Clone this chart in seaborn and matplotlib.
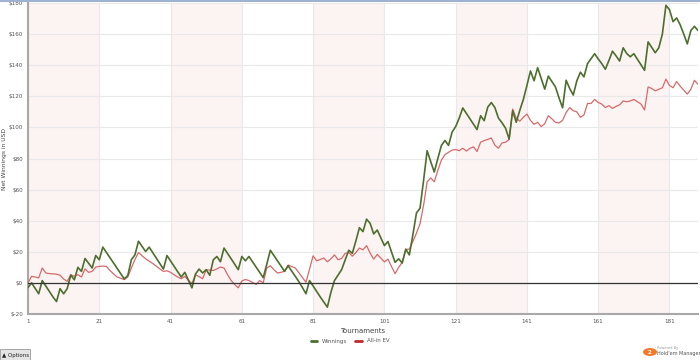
import matplotlib
matplotlib.use("Agg")
import matplotlib.pyplot as plt
import matplotlib.patches as mpatches
import seaborn as sns
import pandas as pd

winnings = [
    -3, 0, -3.5, -7, 1.5, -2, -5.5, -9, -12, -3.7,
    -7, -3.7, 5, 2, 10, 7.4, 15.7, 12.6, 9.6, 17.6,
    14.9, 23, 19.6, 16.2, 12.8, 9.4, 6, 2.6, 4.7, 14.9,
    18, 26.8, 23.5, 20.2, 23, 19.5, 16, 12.4, 8.9, 17.6,
    14.1, 10.6, 7.2, 3.8, 6.8, 1.8, -3.2, 5.7, 8.9, 6.4,
    8.5, 4.9, 14.9, 17, 13.6, 22.4, 19, 15.5, 12, 8.5,
    17, 14.2, 17, 13.6, 10.2, 6.8, 3.4, 12, 21, 17.6,
    14.2, 10.8, 7.4, 11, 7.6, 4.2, 0.8, -3, -7, 1.5,
    -2, -5.5, -9, -12.3, -15.6, -6, 1.5, 5, 8.5, 14.8,
    21, 19, 27, 35.5, 33, 41, 38.3, 31.5, 34, 29,
    24, 26.6, 19.9, 13.2, 15.5, 12.8, 21.7, 18, 31, 45,
    48, 66, 85, 78, 71.3, 80, 88.4, 91.6, 88.4, 97,
    100.5, 106, 112.5, 109, 105.5, 102, 98.6, 107.5, 104.3, 113,
    116, 112.8, 106, 103, 99.5, 92.5, 110.7, 103.3, 111, 118,
    127, 136.3, 130, 138.4, 131.5, 124.6, 133, 129.5, 126, 119,
    112.6, 130.3, 125, 120.8, 130, 135.5, 132.5, 141, 144.2, 147.4,
    144, 141, 137.4, 143, 149, 146, 142.7, 151.2, 147.5, 145.4,
    147.4, 143.8, 140.2, 136.7, 155, 151.5, 148, 151.2, 160, 178.5,
    175.7, 168, 170.4, 166, 160, 153.7, 162.3, 165, 162.3,
]

allin_ev = [
    0, 4.2, 3.8, 3.2, 9.6, 6.4, 6, 5.8, 5.6, 4.9,
    2.5, 1, 5.3, 4.2, 5.3, 3.8, 9, 6.8, 7.4, 10.2,
    10.6, 10.8, 10.6, 8, 5.8, 3.8, 3, 2.1, 3.8, 9.6,
    15, 19.6, 17.5, 15.5, 14, 12.5, 10.8, 9, 7.4, 7.8,
    6.8, 5.2, 3.8, 2.7, 4.2, 1.7, -0.4, 5.3, 4, 2.7,
    8.5, 8.2, 8, 9, 10.2, 9.6, 5.3, 1.5, -1, -3.2,
    1.2, 2.2, 1.5, 0.3, -1, 1.5, 0, 9.6, 11, 8.5,
    6.4, 6.8, 7.5, 11.5, 10.5, 9.6, 6.5, 3.5, 0.4, 9,
    17.4, 14.2, 15, 16, 13.6, 15.5, 18, 14.9, 15.7, 19,
    19.6, 17.2, 19.5, 22.4, 21.3, 24, 19.2, 15.3, 18.3, 16,
    13.5, 15.3, 10.5, 5.9, 10, 13.2, 21.5, 21.7, 26.6, 32,
    38, 50, 65, 67.5, 65, 72.4, 79, 82.5, 84, 85.4,
    85.8, 85, 86.6, 84.8, 86.5, 87.5, 84.5, 90.5, 91.5, 92.3,
    93.2, 88.6, 86.6, 90, 90.5, 92.2, 111.8, 106, 104, 106.5,
    108.6, 104.5, 102, 103.3, 100.5, 102.4, 107.5, 105.5, 103.3, 102.8,
    104.5, 109.6, 112.8, 110.7, 110, 106.5, 108, 115.4, 115.4, 118,
    116, 115, 112.8, 114, 112.2, 113.5, 114.5, 117, 116.5, 117,
    118, 116.5, 115, 111.2, 126, 125, 123.5, 124.5, 125.5, 131,
    127, 125.5, 129.5, 126.5, 124, 121.4, 124.6, 130.3, 127.7,
]

x_ticks = [1, 21, 41, 61, 81, 101, 121, 141, 161, 181]
y_ticks = [-20, 0, 20, 40, 60, 80, 100, 120, 140, 160, 180]
series_names = ["Winnings", "All-in EV"]

tournaments = list(range(1, len(winnings) + 1))
df = pd.DataFrame({
    "Tournament": tournaments * 2,
    "Value": winnings + allin_ev,
    "Series": [series_names[0]] * len(winnings) + [series_names[1]] * len(allin_ev),
})

sns.set_theme(style="white")
plt.rcParams["font.family"] = ["DejaVu Sans"]

fig = plt.figure(figsize=(7, 3.6), dpi=100)
ax = fig.add_axes([28 / 700, 1 - 314 / 360, 670 / 700, 311 / 360])

# alternating shaded bands
for i, start in enumerate(x_ticks):
    if i % 2 == 0:
        ax.axvspan(start, start + 20, color="#fcf3f3", zorder=0, lw=0)

green = "#4d6e2e"
red = "#d66a6a"
sns.lineplot(data=df[df.Series == "All-in EV"], x="Tournament", y="Value",
             color=red, lw=0.9, ax=ax, legend=False, zorder=3)
sns.lineplot(data=df[df.Series == "Winnings"], x="Tournament", y="Value",
             color=green, lw=1.2, ax=ax, legend=False, zorder=4)

ax.axhline(0, color="#333333", lw=0.9, zorder=5)

ax.set_xlim(1, len(winnings))
ax.set_ylim(-20, 180)
ax.set_xticks(x_ticks)
ax.set_xticklabels([str(t) for t in x_ticks])
ax.set_yticks(y_ticks)
ax.set_yticklabels([f"${v}" for v in y_ticks])
ax.grid(True, color="#e9e9e9", lw=0.8, zorder=1)
ax.set_axisbelow(True)
ax.tick_params(axis="both", labelsize=4.1, colors="#555555", length=2, width=0.5, pad=1.5)
for s in ["top", "right"]:
    ax.spines[s].set_visible(False)
for s in ["left", "bottom"]:
    ax.spines[s].set_color("#a8a8a8")
    ax.spines[s].set_linewidth(1.5)

ax.set_xlabel("Tournaments", fontsize=5, color="#444444", labelpad=3)
ax.set_ylabel("Net Winnings in USD", fontsize=4.3, color="#444444")
ax.yaxis.set_label_coords(-21 / 670, 0.5)

# legend
handles = [plt.Line2D([0], [0], color=green, lw=2),
           plt.Line2D([0], [0], color="#c0282d", lw=2)]
fig.legend(handles, series_names, loc="center", bbox_to_anchor=(0.5, 1 - 341 / 360),
           ncol=2, frameon=False, fontsize=4, handlelength=1.2, columnspacing=1.5,
           labelcolor="#555555")

# top border line
fig.add_artist(plt.Line2D([0, 1], [1 - 1 / 360, 1 - 1 / 360], color="#9fb3d1",
                          lw=1.5, transform=fig.transFigure))

# options button
fig.add_artist(mpatches.FancyBboxPatch((0.0, 0.0), 30 / 700, 11 / 360,
                                       boxstyle="square,pad=0", transform=fig.transFigure,
                                       facecolor="#e4e4e4", edgecolor="#9a9a9a", lw=0.6))
fig.text(2 / 700, 5 / 360, "\u25b2 Options", fontsize=4, color="#222222",
         va="center", ha="left")

# powered by logo
fig.add_artist(mpatches.Circle((650 / 700, 8 / 360), 0.009,
                               transform=fig.transFigure, color="#f07a2a"))
fig.text(650 / 700, 8 / 360, "2", fontsize=4, color="white", ha="center",
         va="center", fontweight="bold")
fig.text(657 / 700, 12 / 360, "Powered By", fontsize=2.6, color="#999999",
         ha="left", va="center")
fig.text(657 / 700, 6 / 360, "Hold'em Manager", fontsize=3.5, color="#555555",
         ha="left", va="center")

fig.savefig("out.png", dpi=100)
